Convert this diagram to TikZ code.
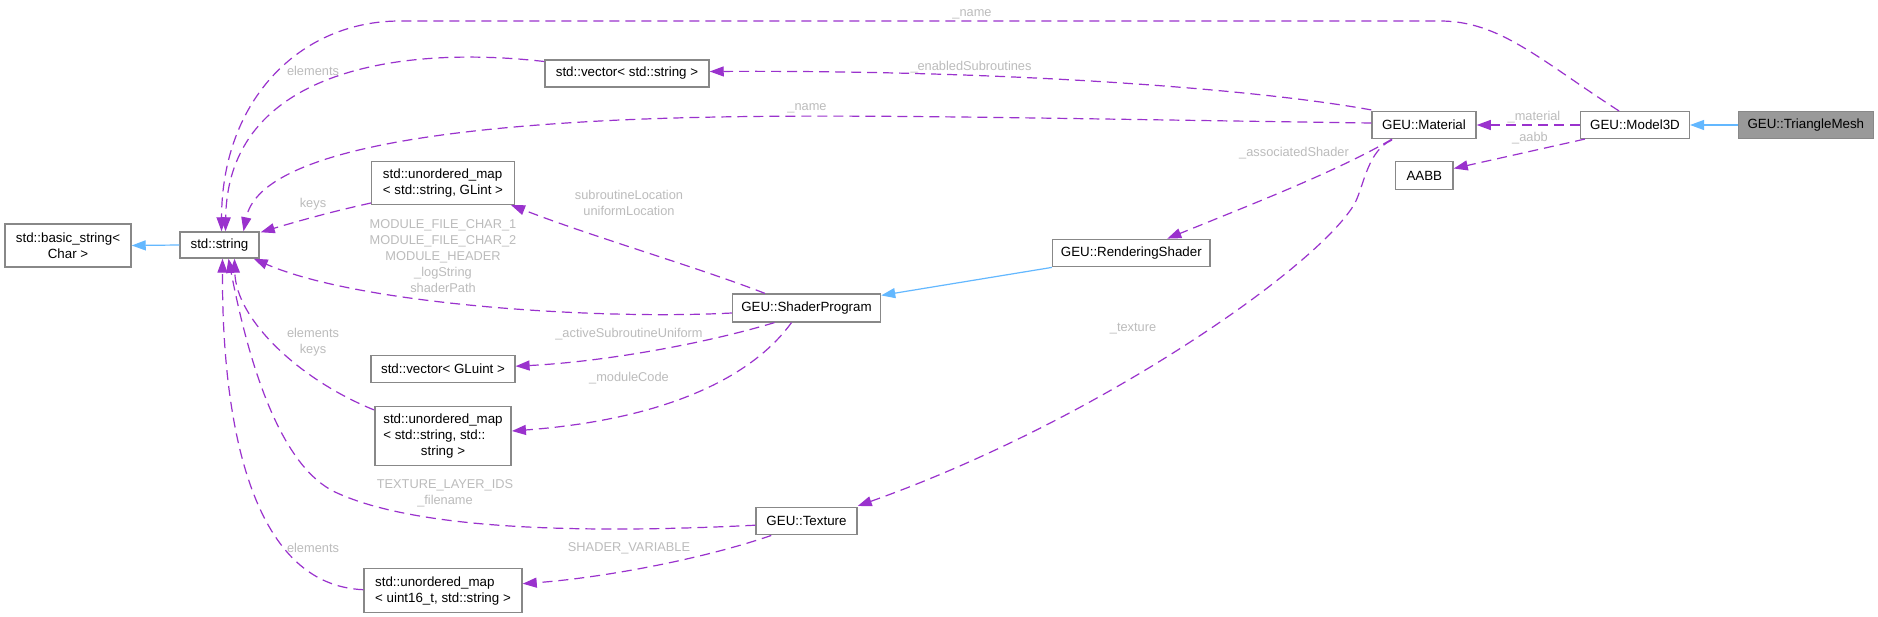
\documentclass[tikz,border=0pt]{standalone}
\usepackage{fontspec}
\setmainfont{Liberation Sans}
\usetikzlibrary{arrows.meta,calc}
\definecolor{edgepurple}{HTML}{9A32CD}
\definecolor{inhblue}{HTML}{63B8FF}
\definecolor{boxgray}{HTML}{888888}
\definecolor{lblgray}{HTML}{BCBCBC}
\definecolor{meshfill}{HTML}{999999}
\begin{document}
\begin{tikzpicture}[x=0.75pt,y=-0.75pt,
  cls/.style={draw=boxgray,line width=1.1pt,fill=white,inner sep=0pt,font=\fontsize{10}{12}\selectfont,align=center},
  lbl/.style={text=lblgray,font=\fontsize{9.6}{12}\selectfont,align=center,inner sep=0pt},
  usage/.style={draw=edgepurple,line width=0.9pt,dash pattern=on 7.5pt off 4.5pt,-{Triangle[length=10.5pt,width=7.5pt]}},
  inh/.style={draw=inhblue,line width=0.9pt,-{Triangle[length=10.5pt,width=7.5pt]}},
]
\fill[white] (0,0) rectangle (1878,617);
\useasboundingbox (0,0) rectangle (1878,617);

% nodes
\node[cls,minimum width=94.5pt,minimum height=32.25pt] (bstr) at (68,245.5) {std::basic\_string<\\Char >};
\node[cls,minimum width=59.25pt,minimum height=19.5pt] (str) at (219.5,245) {std::string};
\node[cls,minimum width=123pt,minimum height=20.25pt] (vecstr) at (627,73.5) {std::vector< std::string >};
\node[cls,align=left,minimum width=106.9pt,minimum height=31.9pt] (glintmap) at (443,183) {std::unordered\_map\\< std::string, GLint >};
\node[cls,minimum width=111pt,minimum height=20.8pt] (shprog) at (806.5,308) {GEU::ShaderProgram};
\node[cls,minimum width=107.8pt,minimum height=20.25pt] (vecgluint) at (443,369.2) {std::vector< GLuint >};
\node[cls,minimum width=102.3pt,minimum height=44pt] (strmap) at (443,436) {\begin{tabular}{@{}l@{}}std::unordered\_map\\< std::string, std::\\\multicolumn{1}{@{}c@{}}{string >}\end{tabular}};
\node[cls,minimum width=75.75pt,minimum height=20.25pt] (texture) at (806.5,521.2) {GEU::Texture};
\node[cls,align=left,minimum width=118.5pt,minimum height=33pt] (u16map) at (443,590.7) {std::unordered\_map\\< uint16\_t, std::string >};
\node[cls,minimum width=78pt,minimum height=20pt] (material) at (1424,125) {GEU::Material};
\node[cls,minimum width=81.5pt,minimum height=20pt] (model) at (1635,125) {GEU::Model3D};
\node[cls,fill=meshfill,minimum width=101.25pt,minimum height=20pt] (trimesh) at (1805.8,125) {GEU::TriangleMesh};
\node[cls,minimum width=43.1pt,minimum height=20.7pt] (aabb) at (1424.3,175.5) {AABB};
\node[cls,minimum width=118pt,minimum height=20.5pt] (rendshader) at (1131.3,253) {GEU::RenderingShader};

% inheritance
\draw[inh] (str.west) -- (bstr.east);
\draw[inh] (trimesh.west) -- (model.east);
\draw[inh] (rendshader.south west) -- ($(shprog.north east)+(0,2)$);

% usage
\draw[usage] (model.west) -- (material.east);
\draw[usage] ($(model.south west)+(5,0)$) -- ($(aabb.east)+(0,-7)$);
\draw[usage] ($(model.north)+(-16,0)$) .. controls (1540,60) and (1500,21) .. (1440,21) -- (400,21) .. controls (300,21) and (222,100) .. ($(str.north)+(2,0)$);
\draw[usage] ($(vecstr.west)+(0,-12)$) .. controls (400,45) and (228,70) .. ($(str.north)+(6,0)$);
\draw[usage] ($(material.west)+(0,-2)$) .. controls (1000,118) and (800,112) .. (620,120) .. controls (450,128) and (260,150) .. ($(str.north)+(24,0)$);
\draw[usage] ($(material.north west)+(0,-1)$) .. controls (1250,88) and (1000,70) .. ($(vecstr.east)+(0,-2)$);
\draw[usage] ($(glintmap.south west)+(0,-2)$) .. controls (330,212) and (295,222) .. ($(str.north east)+(1,1)$);
\draw[usage] ($(shprog.west)+(0,5)$) .. controls (600,320) and (360,305) .. ($(str.south east)+(-6,0)$);
\draw[usage] ($(shprog.north)+(-41.5,0)$) .. controls (700,268) and (590,236) .. ($(glintmap.south east)+(-4,0)$);
\draw[usage] ($(shprog.south)+(-32,0)$) .. controls (700,345) and (600,362) .. ($(vecgluint.east)+(0,-3)$);
\draw[usage] ($(shprog.south)+(-15,0)$) .. controls (750,380) and (660,420) .. ($(strmap.east)+(0,-5)$);
\draw[usage] ($(strmap.north west)+(0,4)$) .. controls (300,380) and (236,320) .. ($(str.south)+(15,0)$);
\draw[usage] ($(texture.west)+(0,4)$) .. controls (600,533) and (420,532) .. (335,492) .. controls (285,468) and (252,380) .. ($(str.south)+(9,0)$);
\draw[usage] ($(u16map.west)+(0,-1)$) .. controls (250,585) and (222,420) .. ($(str.south)+(3,0)$);
\draw[usage] ($(texture.south west)+(16,0)$) .. controls (700,560) and (600,578) .. ($(u16map.east)+(0,-7)$);
\draw[usage] ($(material.south)+(-32,0)$) .. controls (1340,170) and (1250,205) .. ($(rendshader.north)+(36,0)$);
\draw[usage] ($(material.south)+(-32,1)$) .. controls (1368,150) and (1364,185) .. (1355,203) .. controls (1320,265) and (1100,420) .. ($(texture.north east)+(0,-1)$);

% labels
\node[lbl] (lname1) at (972,14) {\_name};
\node[lbl] (lelem1) at (313,70.7) {elements};
\node[lbl] (lenab) at (971,66.7) {\_enabledSubroutines};
\node[lbl] (lname2) at (807,108) {\_name};
\node[lbl] (lkeys) at (313,204) {keys};
\node[lbl] (lmat) at (1534,117.5) {\_material};
\node[lbl] (laabb) at (1530,138.5) {\_aabb};
\node[lbl] (lassoc) at (1294,153) {\_associatedShader};
\node[lbl] (lsub) at (629,203) {subroutineLocation\\uniformLocation};
\node[lbl] (lmod) at (443,256) {MODULE\_FILE\_CHAR\_1\\MODULE\_FILE\_CHAR\_2\\MODULE\_HEADER\\\_logString\\shaderPath};
\node[lbl] (lact) at (629,334) {\_activeSubroutineUniform};
\node[lbl] (lmodc) at (629,377.7) {\_moduleCode};
\node[lbl] (lek) at (313,342.5) {elements\\keys};
\node[lbl] (ltex) at (1133,329) {\_texture};
\node[lbl] (ltli) at (445,493.5) {TEXTURE\_LAYER\_IDS\\\_filename};
\node[lbl] (lshv) at (629,548) {SHADER\_VARIABLE};
\node[lbl] (lelem2) at (313,548) {elements};
\end{tikzpicture}
\end{document}
